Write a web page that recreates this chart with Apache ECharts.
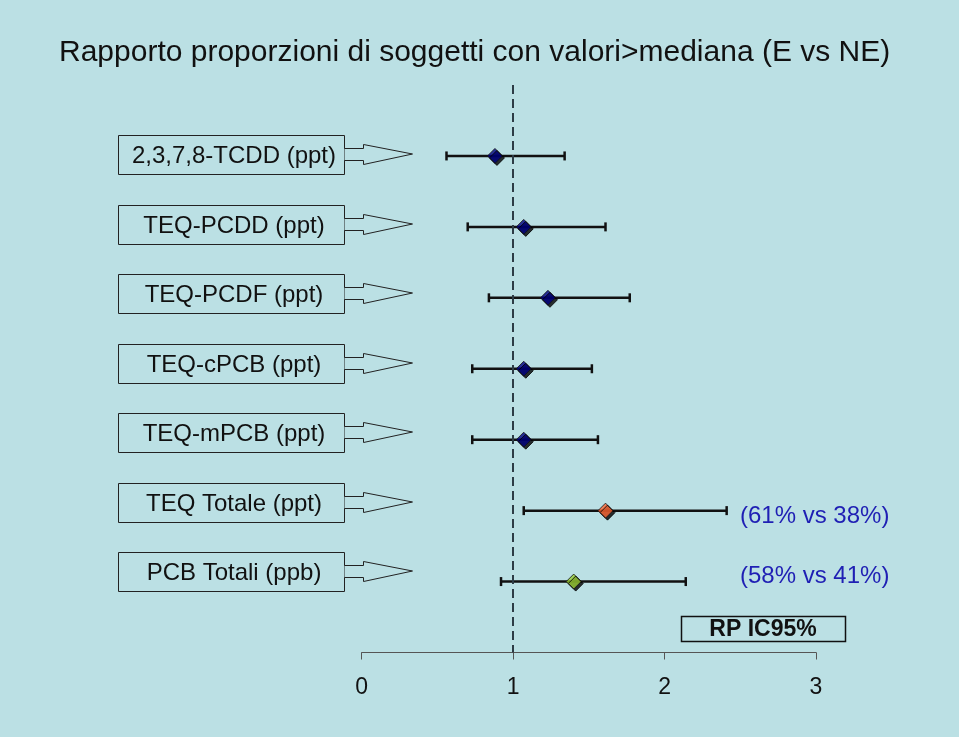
<!DOCTYPE html>
<html>
<head>
<meta charset="utf-8">
<script src="https://cdn.jsdelivr.net/npm/echarts@6/dist/echarts.min.js"></script>
<style>html,body{margin:0;padding:0;background:#bbe0e4;}#c{width:959px;height:737px;}</style>
</head>
<body>
<div id="c"></div>
<script>
const categories = ['2,3,7,8-TCDD (ppt)', 'TEQ-PCDD (ppt)', 'TEQ-PCDF (ppt)', 'TEQ-cPCB (ppt)', 'TEQ-mPCB (ppt)', 'TEQ Totale (ppt)', 'PCB Totali (ppb)'];
const rp    = [0.88, 1.07, 1.23, 1.07, 1.07, 1.61, 1.40];
const lower = [0.56, 0.70, 0.84, 0.73, 0.73, 1.07, 0.92];
const upper = [1.34, 1.61, 1.77, 1.52, 1.56, 2.41, 2.14];
const notes = ['', '', '', '', '', '(61% vs 38%)', '(58% vs 41%)'];
const xTicks = [0, 1, 2, 3];
const refValue = 1;
const legendText = 'RP IC95%';
const titleText = 'Rapporto proporzioni di soggetti con valori>mediana (E vs NE)';

const FONT = 'Liberation Sans, Arial, sans-serif';
const pointColors = ['#000080', '#000080', '#000080', '#000080', '#000080', '#ff6633', '#99cc33'];

const chart = echarts.init(document.getElementById('c'), null, {renderer: 'canvas'});

const option = {
  backgroundColor: '#bbe0e4',
  animation: false,
  title: {
    text: titleText,
    left: 54, top: 33,
    textStyle: {fontFamily: FONT, fontSize: 30, fontWeight: 'normal', color: '#111'}
  },
  grid: {left: 361.7, right: 143, top: 85, bottom: 84.5},
  xAxis: {
    type: 'value',
    min: xTicks[0], max: xTicks[xTicks.length - 1], interval: 1,
    splitLine: {show: false},
    axisLine: {show: true, onZero: false, lineStyle: {color: '#555', width: 1}},
    axisTick: {show: true, length: 7, lineStyle: {color: '#555'}},
    axisLabel: {fontFamily: FONT, fontSize: 23, color: '#111', margin: 24}
  },
  yAxis: [
    {type: 'value', inverse: true, min: -1, max: 7, show: false},
    {type: 'value', inverse: true, min: -1.006, max: 7.15, show: false}
  ],
  series: [
    {
      type: 'custom',
      name: 'labels',
      yAxisIndex: 1,
      silent: true,
      encode: {x: 0, y: 1},
      data: categories.map((c, i) => [0, i]),
      renderItem: function (params, api) {
        const c = Math.round(api.coord([0, api.value(1)])[1]);
        const txt = categories[params.dataIndex];
        return {
          type: 'group',
          children: [
            {type: 'rect', shape: {x: 118.5, y: c - 19.5, width: 226, height: 39},
             style: {fill: 'none', stroke: '#222', lineWidth: 1}},
            {type: 'text', style: {text: txt, x: 234, y: c + 1, align: 'center', verticalAlign: 'middle',
              font: '24px ' + FONT, fill: '#111'}},
            {type: 'polyline', shape: {points: [[344.5, c - 6.5], [363.5, c - 6.5], [363.5, c - 10.5], [412.5, c - 1], [363.5, c + 9.5], [363.5, c + 5.5], [344.5, c + 5.5]]},
             style: {fill: '#bbe0e4', stroke: '#222', lineWidth: 1}}
          ]
        };
      }
    },
    {
      type: 'custom',
      name: 'ci',
      silent: true,
      encode: {x: [0, 1], y: 2},
      data: lower.map((l, i) => [l, upper[i], i]),
      renderItem: function (params, api) {
        const a = api.coord([api.value(0), api.value(2)]);
        const b = api.coord([api.value(1), api.value(2)]);
        const st = {stroke: '#111', lineWidth: 2.5};
        return {
          type: 'group',
          children: [
            {type: 'line', shape: {x1: a[0], y1: a[1], x2: b[0], y2: b[1]}, style: st},
            {type: 'line', shape: {x1: a[0], y1: a[1] - 4.5, x2: a[0], y2: a[1] + 4.5}, style: st},
            {type: 'line', shape: {x1: b[0], y1: b[1] - 4.5, x2: b[0], y2: b[1] + 4.5}, style: st}
          ]
        };
      }
    },
    {
      type: 'scatter',
      name: 'RP',
      symbol: 'diamond',
      symbolSize: 15,
      silent: true,
      data: rp.map((v, i) => ({value: [v, i], itemStyle: {color: pointColors[i]}})),
      itemStyle: {borderColor: '#111', borderWidth: 1, shadowColor: '#000', shadowOffsetX: 2, shadowOffsetY: 2, shadowBlur: 0.01},
      z: 5,
      markLine: {
        silent: true,
        symbol: 'none',
        data: [{xAxis: refValue}],
        lineStyle: {type: [9, 5], color: '#2d3c46', width: 2},
        label: {show: false}
      }
    },
    {
      type: 'custom',
      name: 'notes',
      silent: true,
      encode: {x: 0, y: 1},
      data: notes.map((n, i) => [0, i]),
      renderItem: function (params, api) {
        const c = api.coord([0, api.value(1)])[1];
        const txt = notes[params.dataIndex];
        if (!txt) return null;
        return {type: 'text', style: {text: txt, x: 740, y: c + (params.dataIndex === 5 ? 6 : -5), align: 'left', verticalAlign: 'middle',
          font: '24px ' + FONT, fill: '#1f1fb4'}};
      }
    }
  ],
  graphic: [
    {
      type: 'group',
      left: 679, top: 614,
      children: [
        {type: 'rect', shape: {x: 0.5, y: 0.5, width: 164, height: 25}, style: {fill: 'none', stroke: '#111', lineWidth: 1.5}},
        {type: 'text', style: {text: legendText, x: 82, y: 14, align: 'center', verticalAlign: 'middle',
          font: 'bold 23px ' + FONT, fill: '#111'}}
      ]
    }
  ]
};
chart.setOption(option);
</script>
</body>
</html>
